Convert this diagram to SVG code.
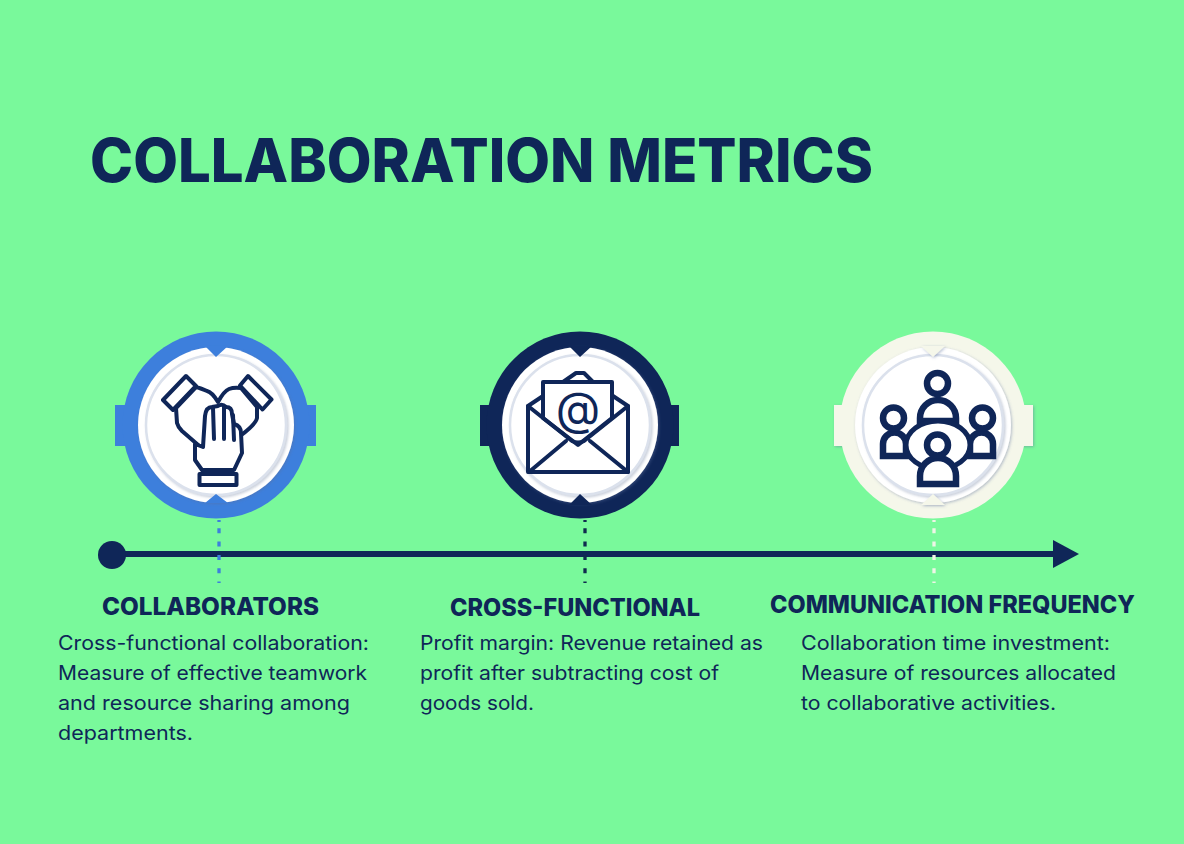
<svg xmlns="http://www.w3.org/2000/svg" width="1184" height="844" viewBox="0 0 1184 844">
<style>
text{font-family:Inter,"Open Sans","Liberation Sans",sans-serif;fill:#0f2658}
.title{font-size:60px;font-weight:800}
.h{font-size:24px;font-weight:800}
.b{font-size:20px;font-weight:400}
.ic{fill:#fff;stroke:#0f2658;stroke-width:4;stroke-linejoin:round;stroke-linecap:round}
.ln{fill:none;stroke:#0f2658;stroke-width:4;stroke-linejoin:round;stroke-linecap:round}
.p{fill:#fff;stroke:#0f2658;stroke-width:6.500;stroke-linejoin:miter}
.wh{fill:#fff;filter:url(#sh)}
.in{fill:#fff;stroke:#dbe1ec;stroke-width:2.500;filter:url(#sh2)}
.dash{fill:none;stroke-width:3.300;stroke-dasharray:2 6.300 5 8.300 5 8.300 5 8.300 5 8.300 3 100}
</style>
<defs>
<filter id="sh" x="-20%" y="-20%" width="140%" height="140%"><feDropShadow dx="1" dy="1" stdDeviation="1.500" flood-color="#5a6f9c" flood-opacity=".45"/></filter>
<filter id="sh2" x="-20%" y="-20%" width="140%" height="140%"><feDropShadow dx="1.500" dy="1.500" stdDeviation="1.200" flood-color="#7c8aa8" flood-opacity=".4"/></filter>
<marker id="arrow" markerUnits="userSpaceOnUse" markerWidth="26" markerHeight="30" refX="1" refY="15" orient="auto"><path d="M0 1L26 15L0 29Z" fill="#0f2658"/></marker>
</defs>
<rect width="1184" height="844" fill="#79f99b"/>
<text class="title" x="90" y="182" textLength="783" lengthAdjust="spacingAndGlyphs">COLLABORATION METRICS</text>

<g id="connectors">
<path d="M112 554H1054" stroke="#0f2658" stroke-width="6" fill="none" marker-end="url(#arrow)"/>
<path class="dash" d="M219 520V583" stroke="#3d7fdc"/>
<path class="dash" d="M585 520V583" stroke="#0f2a4e"/>
<path class="dash" d="M934 520V583" stroke="#eef5e6"/>
</g>

<g id="start-dot"><circle cx="112" cy="555" r="14" fill="#0f2658"/></g>

<g id="node-collaborators">
<rect x="115" y="405" width="201" height="41" fill="#3d7fdc"/>
<circle cx="216" cy="425" r="93.500" fill="#3d7fdc"/>
<circle class="wh" cx="216" cy="425" r="78"/>
<circle class="in" cx="216" cy="425" r="70"/>
<path d="M205 346H228L216 357Z M205 503H228L216 494Z" fill="#3d7fdc"/>
<path class="ln" d="M163 400L186 376L196 386L173 410Z M248 376L271.500 399.500L262.500 409.500L240 385.500Z"/>
<path class="ic" d="M176 408L177 423Q178 427 182 431L197 444L215 460L240 436Q256 424 257 418L257 407L241 388Q234 387 229 389Q224 391 218 402Q212 392 207 391Q200 388 196 387Z"/>
<path class="ic" d="M203 447L205 416Q206 407 212 407L218 406Q222 403 226 407Q232 407 232 414L234 424Q241 426 241 433L242 453L234 470H202L195 460V444Z"/>
<path class="ln" d="M213 408L214 439M224 407L224 439M233 415L234 440"/>
<rect class="ic" x="199.500" y="474" width="37" height="11"/>
</g>

<g id="node-cross-functional">
<rect x="480" y="405" width="199" height="41" fill="#0f2658"/>
<circle cx="580" cy="425" r="93.500" fill="#0f2658"/>
<circle class="wh" cx="580" cy="425" r="78"/>
<circle class="in" cx="580" cy="425" r="70"/>
<path d="M569 346H592L580 357Z M569 505H592L580 494Z" fill="#0f2658"/>
<path class="ic" d="M563 382L576 373H584L593 382Z"/>
<path class="ic" d="M528 406L543 396H613L628 406V472H528Z"/>
<path class="ic" d="M543 418V382H612V418L578 445Z"/>
<text x="578" y="425" text-anchor="middle" style="font-size:46px;font-weight:400">@</text>
<path class="ln" d="M528 406L572 441Q578 444 584 441L628 406M529 472L566 441M628 472L590 441"/>
</g>

<g id="node-communication-frequency">
<rect x="834" y="405" width="199" height="41" fill="#f5f7ea" filter="url(#sh)"/>
<circle cx="933" cy="425" r="93.500" fill="#f5f7ea"/>
<circle class="wh" cx="933" cy="425" r="78"/>
<circle class="in" cx="933" cy="425" r="70"/>
<path d="M921 346H945L933 357Z M921 505H945L933 494Z" fill="#f5f7ea" filter="url(#sh)"/>
<path class="p" d="M920 421V418A18 18 0 0 1 956 418V421Z"/>
<circle class="p" cx="937.500" cy="383.500" r="10.500"/>
<path class="p" d="M883 456V444A11.500 11.500 0 0 1 906 444V456Z"/>
<circle class="p" cx="893.500" cy="418" r="10.500"/>
<path class="p" d="M993 456V444A11.500 11.500 0 0 0 970 444V456Z"/>
<circle class="p" cx="982.500" cy="418" r="10.500"/>
<ellipse class="p" cx="938" cy="445" rx="32" ry="24" style="stroke-width:5"/>
<path class="p" d="M920 484V476A18 18 0 0 1 956 476V484Z"/>
<circle class="p" cx="937.500" cy="445" r="10.500"/>
</g>

<g id="label-collaborators">
<text class="h" x="102" y="615" textLength="217" lengthAdjust="spacingAndGlyphs">COLLABORATORS</text>
<text class="b" x="58" y="650" textLength="311" lengthAdjust="spacingAndGlyphs">Cross-functional collaboration:</text>
<text class="b" x="58" y="680" textLength="309" lengthAdjust="spacingAndGlyphs">Measure of effective teamwork</text>
<text class="b" x="58" y="710" textLength="292" lengthAdjust="spacingAndGlyphs">and resource sharing among</text>
<text class="b" x="58" y="740" textLength="135" lengthAdjust="spacingAndGlyphs">departments.</text>
</g>
<g id="label-cross-functional">
<text class="h" x="450" y="616" textLength="250" lengthAdjust="spacingAndGlyphs">CROSS-FUNCTIONAL</text>
<text class="b" x="420" y="650" textLength="343" lengthAdjust="spacingAndGlyphs">Profit margin: Revenue retained as</text>
<text class="b" x="420" y="680" textLength="299" lengthAdjust="spacingAndGlyphs">profit after subtracting cost of</text>
<text class="b" x="420" y="710" textLength="114" lengthAdjust="spacingAndGlyphs">goods sold.</text>
</g>
<g id="label-communication-frequency">
<text class="h" x="770" y="613" textLength="365" lengthAdjust="spacingAndGlyphs">COMMUNICATION FREQUENCY</text>
<text class="b" x="801" y="650" textLength="309" lengthAdjust="spacingAndGlyphs">Collaboration time investment:</text>
<text class="b" x="801" y="680" textLength="315" lengthAdjust="spacingAndGlyphs">Measure of resources allocated</text>
<text class="b" x="801" y="710" textLength="255" lengthAdjust="spacingAndGlyphs">to collaborative activities.</text>
</g>
</svg>
